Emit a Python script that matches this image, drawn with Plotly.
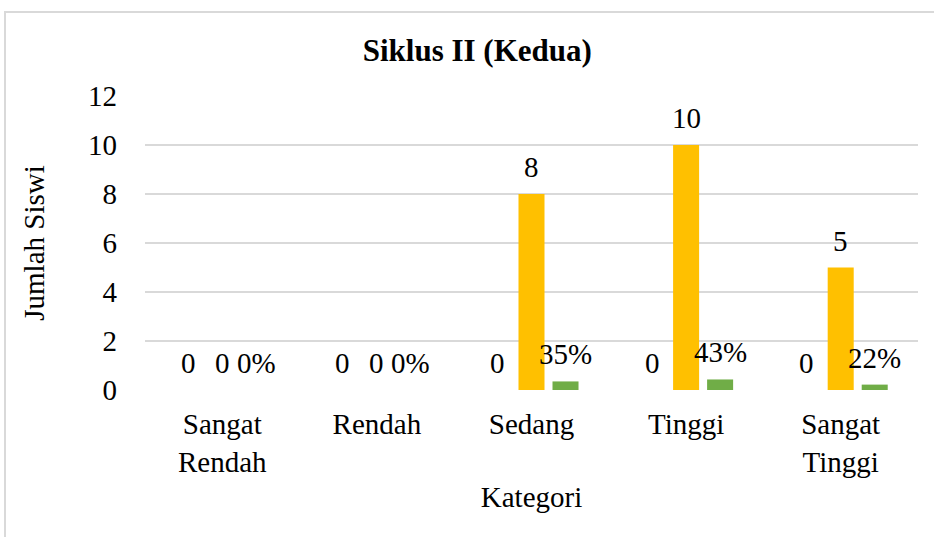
import plotly.graph_objects as go

categories = ["Sangat<br>Rendah", "Rendah", "Sedang", "Tinggi", "Sangat<br>Tinggi"]
series1 = [0, 0, 0, 0, 0]
series2 = [0, 0, 8, 10, 5]
series3 = [0.0, 0.0, 0.35, 0.43, 0.22]
series3_labels = ["0%", "0%", "35%", "43%", "22%"]
colors = ["#4472C4", "#FFC000", "#70AD47"]

FONT = "Liberation Serif"
FS = 29

W, H = 934, 537
L, R, T, B = 145, 16, 96, 147
pw, ph = W - L - R, H - T - B

fig = go.Figure()
all_series = [series1, series2, series3]
all_labels = [[str(v) for v in series1], [str(v) for v in series2], series3_labels]
for s, c in zip(all_series, colors):
    fig.add_trace(go.Bar(x=categories, y=s, marker_color=c, marker_line_width=0))

# data labels placed above each bar of the group
slot = 34
annotations = []
for i, (s, labs) in enumerate(zip(all_series, all_labels)):
    for cat, v, lab in zip(categories, s, labs):
        annotations.append(dict(x=cat, y=v, xref="x", yref="y", text=lab, showarrow=False,
                                xanchor="center", yanchor="middle",
                                xshift=(i - 1) * slot, yshift=27,
                                font=dict(family=FONT, size=FS, color="#000000")))

fig.update_layout(
    width=W, height=H,
    margin=dict(l=L, r=R, t=T, b=B),
    paper_bgcolor="white", plot_bgcolor="white",
    barmode="group", bargap=0.34, bargroupgap=0.235,
    showlegend=False,
    font=dict(family=FONT, size=FS, color="#000000"),
    title=dict(text="<b>Siklus II (Kedua)</b>", x=0.511, xref="container", xanchor="center",
               y=1 - 50 / H, yref="container", yanchor="middle",
               font=dict(family=FONT, size=31, color="#000000")),
    xaxis=dict(showgrid=False, zeroline=False, showline=False, ticks="", ticklabelstandoff=14,
               title=dict(text="Kategori", standoff=9, font=dict(size=FS))),
    yaxis=dict(range=[0, 12], dtick=2, tick0=0, showgrid=True, gridcolor="#D9D9D9", gridwidth=2,
               zeroline=False, showline=False, ticks="", ticklabelstandoff=27,
               title=dict(text="Jumlah Siswi", standoff=34, font=dict(size=FS))),
    annotations=annotations,
    shapes=[dict(type="rect", xref="paper", yref="paper",
                 x0=(5 - L) / pw, x1=(945 - L) / pw,
                 y0=-(550 - (H - B)) / ph, y1=1 + (T - 12) / ph,
                 line=dict(color="#D9D9D9", width=2), fillcolor="rgba(0,0,0,0)", layer="below")],
)

fig.write_html("out.html")
